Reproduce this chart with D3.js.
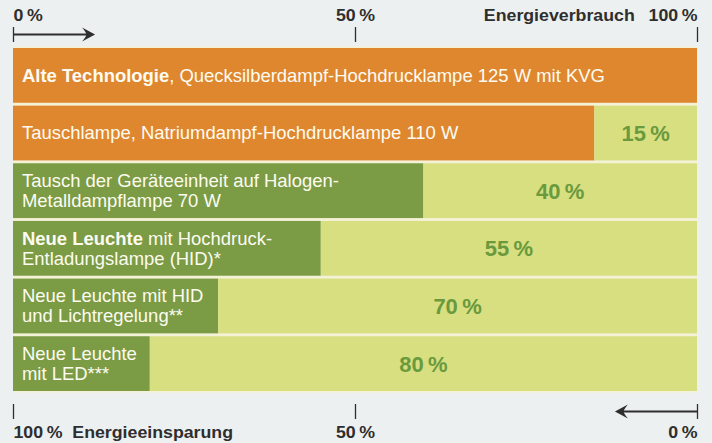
<!DOCTYPE html>
<html>
<head>
<meta charset="utf-8">
<script src="https://cdn.jsdelivr.net/npm/d3@7"></script>
<style>
  html, body { margin: 0; padding: 0; background: #edf0f0; }
  svg { display: block; font-family: "Liberation Sans", Arial, Helvetica, sans-serif; }
</style>
</head>
<body>
<svg id="chart" width="712" height="443"></svg>
<script>
// Energy savings of lighting upgrades (percent of the old installation)
const savings = [0, 15, 40, 55, 70, 80];
// "alt" = conventional lamp swap, "neu" = new gear/luminaire
const kinds = ["alt", "alt", "neu", "neu", "neu", "neu"];
// Each row: lines of [text, bold] segments
const rowLabels = [
  [[["Alte Technologie", true], [", Quecksilberdampf-Hochdrucklampe 125 W mit KVG", false]]],
  [[["Tauschlampe, Natriumdampf-Hochdrucklampe 110 W", false]]],
  [[["Tausch der Geräteeinheit auf Halogen-", false]], [["Metalldampflampe 70 W", false]]],
  [[["Neue Leuchte", true], [" mit Hochdruck-", false]], [["Entladungslampe (HID)*", false]]],
  [[["Neue Leuchte mit HID", false]], [["und Lichtregelung**", false]]],
  [[["Neue Leuchte", false]], [["mit LED***", false]]]
];
const consumptionTicks = [0, 50, 100];
const consumptionTickLabels = ["0\u2009%", "50\u2009%", "Energieverbrauch\u2002 100\u2009%"];
const savingTicks = [100, 50, 0];
const savingTickLabels = ["100\u2009%  Energieeinsparung", "50\u2009%", "0\u2009%"];

const svg = d3.select("#chart");

const colors = { alt: "#df872f", neu: "#7b9b44", rest: "#d7df81", sep: "#f4f2d6",
                 value: "#6a9a3d", axis: "#2e2e2e", label: "#fdfbf1" };

const x = d3.scaleLinear().domain([0, 100]).range([13, 697]);
const xs = d3.scaleLinear().domain([100, 0]).range([13, 697]);
const y = d3.scaleBand().domain(d3.range(savings.length)).range([48, 391]).paddingInner(0.05);

// pale backing that shows through as the row separators
svg.append("rect")
  .attr("x", x(0)).attr("y", 46.5)
  .attr("width", x(100) - x(0)).attr("height", 392.5 - 46.5)
  .attr("fill", colors.sep);

const rows = svg.append("g").selectAll("g")
  .data(savings.map((s, i) => ({ s, i, kind: kinds[i], lines: rowLabels[i] })))
  .join("g")
  .attr("transform", d => `translate(0,${y(d.i)})`);

// remaining consumption
rows.append("rect")
  .attr("x", x(0)).attr("y", 0)
  .attr("width", d => x(100 - d.s) - x(0))
  .attr("height", y.bandwidth())
  .attr("fill", d => colors[d.kind]);

// saved share
rows.filter(d => d.s > 0).append("rect")
  .attr("x", d => x(100 - d.s)).attr("y", 0)
  .attr("width", d => x(100) - x(100 - d.s))
  .attr("height", y.bandwidth())
  .attr("fill", colors.rest);

// saving value centred in the saved share
rows.filter(d => d.s > 0).append("text")
  .attr("x", d => (x(100 - d.s) + x(100)) / 2)
  .attr("y", y.bandwidth() / 2)
  .attr("dy", "0.36em")
  .attr("text-anchor", "middle")
  .attr("font-size", 22).attr("font-weight", "bold")
  .attr("fill", colors.value)
  .text(d => `${d.s}\u2009%`);

// row descriptions
const lineGap = 20, labelSize = 17.5, labelStretch = 1.055;
rows.each(function (d) {
  const g = d3.select(this);
  const n = d.lines.length;
  const mid = y.bandwidth() / 2;
  d.lines.forEach((segs, li) => {
    const base = mid + (li - (n - 1) / 2) * lineGap + labelSize * 0.358;
    const t = g.append("text")
      .attr("transform", `translate(22,${base}) scale(${labelStretch},1)`)
      .attr("font-size", labelSize)
      .attr("fill", colors.label)
      .style("white-space", "pre");
    segs.forEach(([txt, bold]) => {
      t.append("tspan").attr("font-weight", bold ? "bold" : "normal").text(txt);
    });
  });
});

const axisSize = 16, axisStretch = 1.11;

// top axis: energy consumption
const topAxis = svg.append("g")
  .attr("transform", "translate(0,42)")
  .call(d3.axisTop(x).tickValues(consumptionTicks)
    .tickSizeInner(15).tickSizeOuter(0).tickPadding(6)
    .tickFormat((v, i) => consumptionTickLabels[i]));
topAxis.select(".domain").remove();
topAxis.selectAll(".tick line").attr("stroke", colors.axis).attr("stroke-width", 1.3);
topAxis.selectAll(".tick text")
  .attr("fill", colors.axis).attr("font-size", axisSize).attr("font-weight", "bold")
  .attr("font-family", null)
  .style("white-space", "pre")
  .attr("text-anchor", (v, i) => i === 0 ? "start" : i === 2 ? "end" : "middle")
  .attr("transform", `scale(${axisStretch},1)`);

// bottom axis: energy saving
const botAxis = svg.append("g")
  .attr("transform", "translate(0,404)")
  .call(d3.axisBottom(xs).tickValues(savingTicks)
    .tickSizeInner(15).tickSizeOuter(0).tickPadding(6)
    .tickFormat((v, i) => savingTickLabels[i]));
botAxis.select(".domain").remove();
botAxis.selectAll(".tick line").attr("stroke", colors.axis).attr("stroke-width", 1.3);
botAxis.selectAll(".tick text")
  .attr("fill", colors.axis).attr("font-size", axisSize).attr("font-weight", "bold")
  .attr("font-family", null)
  .style("white-space", "pre")
  .attr("y", 34).attr("dy", null)
  .attr("text-anchor", (v, i) => i === 0 ? "start" : i === 2 ? "end" : "middle")
  .attr("transform", `scale(${axisStretch},1)`);

// direction arrows
function arrow(x0, x1, yy) {
  const dir = Math.sign(x1 - x0);
  svg.append("line")
    .attr("x1", x0).attr("x2", x1 - dir * 3).attr("y1", yy).attr("y2", yy)
    .attr("stroke", colors.axis).attr("stroke-width", 2);
  svg.append("path")
    .attr("transform", `translate(${x1},${yy}) scale(${dir},1)`)
    .attr("d", "M0,0 L-13,-7 Q-8,-1 -9,0 Q-8,1 -13,7 Z")
    .attr("fill", colors.axis);
}
arrow(x(0), x(12), 34.5);
arrow(xs(0), xs(12), 411.5);
</script>
</body>
</html>
